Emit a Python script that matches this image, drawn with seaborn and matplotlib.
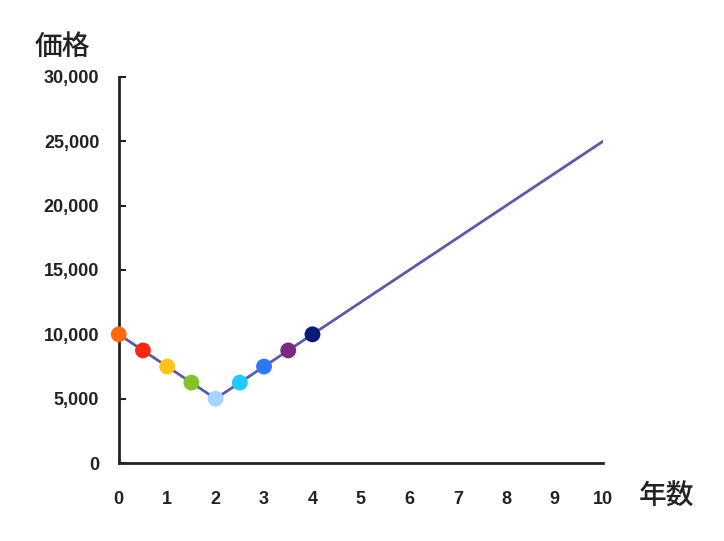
import matplotlib
matplotlib.use("Agg")
import matplotlib.pyplot as plt
import seaborn as sns
from matplotlib.ticker import FuncFormatter

# -----------------------------
# Data
# -----------------------------
line_x = [0, 2, 10]
line_y = [10000, 5000, 25000]

point_x = [0, 0.5, 1, 1.5, 2, 2.5, 3, 3.5, 4]
point_y = [10000, 8750, 7500, 6250, 5000, 6250, 7500, 8750, 10000]
point_colors = ["#FF6A10", "#F52A10", "#FFC41A", "#82C22A", "#A6D4FF",
                "#24C8FF", "#2F78F5", "#7A2A82", "#0A1A78"]

x_ticks = list(range(0, 11))
y_ticks = [0, 5000, 10000, 15000, 20000, 25000, 30000]

# -----------------------------
# Theme
# -----------------------------
sns.set_theme(style="white")
plt.rcParams["font.family"] = ["Liberation Sans", "Noto Sans CJK JP", "DejaVu Sans"]

fig = plt.figure(figsize=(7.24, 5.41), dpi=100)
ax = fig.add_axes([0.164, 0.144, 0.669, 0.714])

sns.lineplot(x=line_x, y=line_y, color="#5B5BA3", linewidth=2, ax=ax)
sns.scatterplot(x=point_x, y=point_y, hue=list(range(len(point_x))),
                palette=point_colors, s=130, edgecolor="none",
                legend=False, ax=ax, zorder=3, clip_on=False)

ax.set_xlim(0, 10)
ax.set_ylim(0, 30000)
ax.set_xticks(x_ticks)
ax.set_yticks(y_ticks)
ax.yaxis.set_major_formatter(FuncFormatter(lambda v, p: f"{int(v):,}"))

for side in ["top", "right"]:
    ax.spines[side].set_visible(False)
for side in ["left", "bottom"]:
    ax.spines[side].set_color("#222222")
    ax.spines[side].set_linewidth(2)

ax.tick_params(axis="y", direction="in", length=5, width=1.5,
               color="#222222", left=True, pad=14, labelsize=13)
ax.tick_params(axis="x", length=0, pad=20, labelsize=13)
for lab in ax.get_xticklabels() + ax.get_yticklabels():
    lab.set_fontweight("bold")
    lab.set_color("#222222")

fig.text(0.048, 0.898, "価格", fontsize=20, fontweight="medium",
         family=["Noto Sans CJK JP"], color="#222222")
fig.text(0.882, 0.067, "年数", fontsize=20, fontweight="medium",
         family=["Noto Sans CJK JP"], color="#222222")

plt.savefig("out.png", dpi=100)
plt.close()
